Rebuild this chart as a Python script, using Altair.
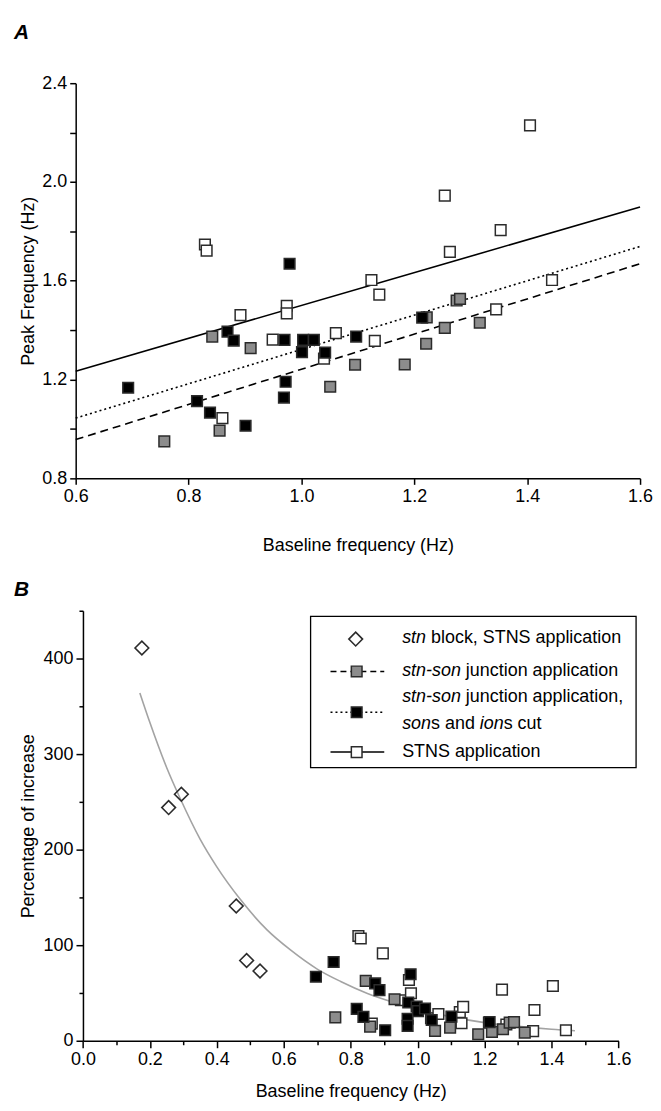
import altair as alt
import pandas as pd

FONT = "Liberation Sans"

# ---------------- Panel A data ----------------
a_gray_base = [0.757, 0.842, 0.855, 0.910, 1.051, 1.095, 1.183, 1.221, 1.222, 1.254, 1.275, 1.281, 1.316]
a_gray_peak = [0.950, 1.374, 0.993, 1.327, 1.171, 1.260, 1.261, 1.345, 1.452, 1.409, 1.520, 1.527, 1.430]

a_black_base = [0.693, 0.815, 0.838, 0.869, 0.880, 0.901, 0.969, 0.972, 0.970, 0.979,
                1.001, 1.003, 1.022, 1.042, 1.097, 1.214]
a_black_peak = [1.167, 1.113, 1.066, 1.394, 1.358, 1.013, 1.127, 1.191, 1.361, 1.669,
                1.311, 1.361, 1.361, 1.309, 1.374, 1.451]

a_open_base = [0.829, 0.832, 0.860, 0.892, 0.949, 0.974, 0.974, 1.040, 1.061, 1.124,
               1.130, 1.138, 1.254, 1.263, 1.345, 1.353, 1.405, 1.444]
a_open_peak = [1.747, 1.722, 1.044, 1.461, 1.362, 1.499, 1.468, 1.285, 1.388, 1.603,
               1.357, 1.544, 1.945, 1.717, 1.484, 1.805, 2.229, 1.603]

fit_x = [0.6, 1.6]
fit_solid = [1.234, 1.899]
fit_dotted = [1.044, 1.739]
fit_dashed = [0.957, 1.669]

# ---------------- Panel B data ----------------
b_diam_x = [0.176, 0.256, 0.294, 0.458, 0.489, 0.529]
b_diam_y = [411, 244, 258, 141, 84, 73]

b_gray_x = [0.754, 0.845, 0.858, 0.931, 1.052, 1.097, 1.181, 1.213, 1.222, 1.255, 1.275, 1.288, 1.320]
b_gray_y = [24.5, 62.6, 14.8, 43.4, 10.3, 13.8, 6.8, 19.0, 9.2, 12.0, 19.0, 19.5, 8.5]

b_black_x = [0.696, 0.749, 0.818, 0.838, 0.873, 0.886, 0.903, 0.970, 0.970, 0.972, 0.979,
             0.997, 1.001, 1.022, 1.042, 1.101, 1.215]
b_black_y = [67, 82.4, 33.3, 25, 60, 53, 11, 23, 15.5, 40, 69.6,
             35.8, 31, 33.7, 21.7, 25.3, 19.5]

b_open_x = [0.823, 0.830, 0.863, 0.896, 0.950, 0.974, 0.980, 1.040, 1.062, 1.126,
            1.131, 1.136, 1.252, 1.265, 1.345, 1.349, 1.404, 1.443]
b_open_y = [109.6, 107, 18, 91.5, 42.4, 63.6, 49.7, 23.5, 28, 30,
            18.3, 35.4, 53.5, 17, 10, 32.2, 57.3, 11]

curve_x = [0.17, 0.2, 0.25, 0.29, 0.35, 0.4, 0.47, 0.55, 0.62, 0.7, 0.77, 0.85,
           0.93, 1.0, 1.1, 1.2, 1.3, 1.4, 1.47]
curve_y = [364, 333, 286, 254, 211, 182, 148, 116, 95, 75, 62, 49.5,
           40, 33, 25, 19, 15, 12, 10.5]

legend_labels = [
    [("stn", True), ("block, STNS application", False)],
    [("stn-son", True), ("junction application", False)],
    [("stn-son", True), ("junction application,", False)],
    [("son", True), ("s and", False), ("ion", True), ("s cut", False)],
    [("STNS application", False)],
]

GRAY = "#8c8c8c"
EDGE = "#2b2b2b"

one = pd.DataFrame({"k": [0]})

axis_common = dict(
    domainColor="black", domainWidth=1.5, tickColor="black", tickWidth=1.5,
    labelFont=FONT, labelFontSize=18, labelColor="black", labelFlush=False,
    titleFont=FONT, titleFontSize=18, titleFontWeight="normal", titleColor="black",
    grid=False,
)

# ---------------- Panel A ----------------
xA = alt.Scale(domain=[0.6, 1.6], nice=False, zero=False)
yA = alt.Scale(domain=[0.8, 2.4], nice=False, zero=False)

axAx = alt.Axis(values=[0.6, 0.8, 1.0, 1.2, 1.4, 1.6], format=".1f", tickSize=6,
                labelPadding=3, title="Baseline frequency (Hz)",
                titleY=67, titleBaseline="middle", **axis_common)
axAy = alt.Axis(values=[0.8, 1.0, 1.2, 1.4, 1.6, 1.8, 2.0, 2.2, 2.4], tickSize=6,
                labelPadding=3,
                labelExpr="(round(datum.value*10) % 4 == 0) ? format(datum.value, '.1f') : ''",
                title="Peak Frequency (Hz)", titleX=-47, titleBaseline="middle",
                **axis_common)
XA = alt.X("x:Q", scale=xA, axis=axAx)
YA = alt.Y("y:Q", scale=yA, axis=axAy)


def sq_layer(xs, ys, fill, xe, ye, size=115):
    df = pd.DataFrame({"x": xs, "y": ys})
    return alt.Chart(df).mark_square(size=size, fill=fill, stroke=EDGE, strokeWidth=1.5,
                                     opacity=1).encode(x=xe, y=ye)


def fit_layer(ys, dash):
    df = pd.DataFrame({"x": fit_x, "y": ys})
    kw = dict(color="black", strokeWidth=1.6)
    if dash:
        kw["strokeDash"] = dash
    return alt.Chart(df).mark_line(**kw).encode(x=XA, y=YA)


labelA = alt.Chart(one).mark_text(text="A", font=FONT, fontSize=21, fontWeight="bold",
                                  fontStyle="italic", align="left", baseline="middle",
                                  color="black").encode(x=alt.value(-62), y=alt.value(-50))

panelA = alt.layer(
    fit_layer(fit_solid, None),
    fit_layer(fit_dotted, [2, 3]),
    fit_layer(fit_dashed, [8, 5]),
    sq_layer(a_open_base, a_open_peak, "white", XA, YA),
    sq_layer(a_gray_base, a_gray_peak, GRAY, XA, YA),
    sq_layer(a_black_base, a_black_peak, "black", XA, YA),
    labelA,
).properties(width=567, height=397)

# ---------------- Panel B ----------------
SHIFT = 7.3  # panel B's axes sit a little further right than panel A's
xB = alt.Scale(domain=[0, 1.6], range=[SHIFT, SHIFT + 538], nice=False, zero=False)
yB = alt.Scale(domain=[0, 450], nice=False, zero=False)

axBx = alt.Axis(values=[round(i * 0.1, 1) for i in range(17)],
                tickSize={"condition": {"test": "round(datum.value*10) % 2 == 0", "value": 7},
                          "value": 4},
                labelPadding=3,
                labelExpr="(round(datum.value*10) % 2 == 0) ? format(datum.value, '.1f') : ''",
                title="Baseline frequency (Hz)", titleY=51, titleBaseline="middle",
                **axis_common)
axBy = alt.Axis(values=list(range(0, 451, 50)), offset=-SHIFT,
                tickSize={"condition": {"test": "datum.value % 100 == 0", "value": 7},
                          "value": 4},
                labelPadding=3,
                labelExpr="(datum.value % 100 == 0) ? format(datum.value, 'd') : ''",
                title="Percentage of increase", titleX=-47 - SHIFT, titleBaseline="middle",
                **axis_common)
XB = alt.X("x:Q", scale=xB, axis=axBx)
YB = alt.Y("y:Q", scale=yB, axis=axBy)

curve_df = pd.DataFrame({"x": curve_x, "y": curve_y})
curve = alt.Chart(curve_df).mark_line(color="#a3a3a3", strokeWidth=1.6,
                                      interpolate="monotone").encode(x=XB, y=YB)

diam_df = pd.DataFrame({"x": b_diam_x, "y": b_diam_y})
diam = alt.Chart(diam_df).mark_point(shape="diamond", size=190, filled=False,
                                     stroke=EDGE, strokeWidth=1.6, opacity=1).encode(x=XB, y=YB)

# legend (drawn with pixel positions relative to the plot area)
LX = 320.7 + SHIFT
SX = 275 + SHIFT
R0, R1 = 248.7 + SHIFT, 302.7 + SHIFT
line_y = [27.7, 60.7, 86.7, 113.7, 141.7]
offsets = [[0, 29], [0, 64], [0, 64], [0, 29, 78, 102], [0]]

leg_layers = [
    alt.Chart(one).mark_rect(fill="white", stroke="black", strokeWidth=1.3).encode(
        x=alt.value(228.7 + SHIFT), x2=alt.value(555.7 + SHIFT),
        y=alt.value(5.7), y2=alt.value(157.7)),
    alt.Chart(one).mark_point(shape="diamond", size=190, filled=False, stroke=EDGE,
                              strokeWidth=1.6, opacity=1).encode(
        x=alt.value(SX - 1), y=alt.value(28.5)),
    alt.Chart(one).mark_rule(color="black", strokeWidth=1.5, strokeDash=[6, 4]).encode(
        x=alt.value(R0), x2=alt.value(R1), y=alt.value(61)),
    alt.Chart(one).mark_square(size=115, fill=GRAY, stroke=EDGE, strokeWidth=1.5,
                               opacity=1).encode(x=alt.value(SX), y=alt.value(61)),
    alt.Chart(one).mark_rule(color="black", strokeWidth=1.5, strokeDash=[2, 3]).encode(
        x=alt.value(R0), x2=alt.value(R1), y=alt.value(102)),
    alt.Chart(one).mark_square(size=115, fill="black", stroke=EDGE, strokeWidth=1.5,
                               opacity=1).encode(x=alt.value(SX), y=alt.value(102)),
    alt.Chart(one).mark_rule(color="black", strokeWidth=1.5).encode(
        x=alt.value(R0), x2=alt.value(R1), y=alt.value(142)),
    alt.Chart(one).mark_square(size=115, fill="white", stroke=EDGE, strokeWidth=1.5,
                               opacity=1).encode(x=alt.value(SX), y=alt.value(142)),
]
for parts, offs, yy in zip(legend_labels, offsets, line_y):
    for (s, it), dx in zip(parts, offs):
        leg_layers.append(
            alt.Chart(one).mark_text(text=s, font=FONT, fontSize=18,
                                     fontStyle="italic" if it else "normal",
                                     align="left", baseline="middle", color="black").encode(
                x=alt.value(LX + dx), y=alt.value(yy)))

labelB = alt.Chart(one).mark_text(text="B", font=FONT, fontSize=21, fontWeight="bold",
                                  fontStyle="italic", align="left", baseline="middle",
                                  color="black").encode(x=alt.value(-62), y=alt.value(-21.3))

panelB = alt.layer(
    curve,
    diam,
    sq_layer(b_open_x, b_open_y, "white", XB, YB),
    sq_layer(b_gray_x, b_gray_y, GRAY, XB, YB),
    sq_layer(b_black_x, b_black_y, "black", XB, YB),
    *leg_layers,
    labelB,
).properties(width=546, height=432)

chart = alt.concat(panelA, panelB, columns=1, align="none", spacing=24).properties(
    padding={"left": 6, "top": 12, "right": 0, "bottom": 0}
).configure_view(stroke=None)

chart.save("out.html", embed_options={"renderer": "svg", "actions": False})
